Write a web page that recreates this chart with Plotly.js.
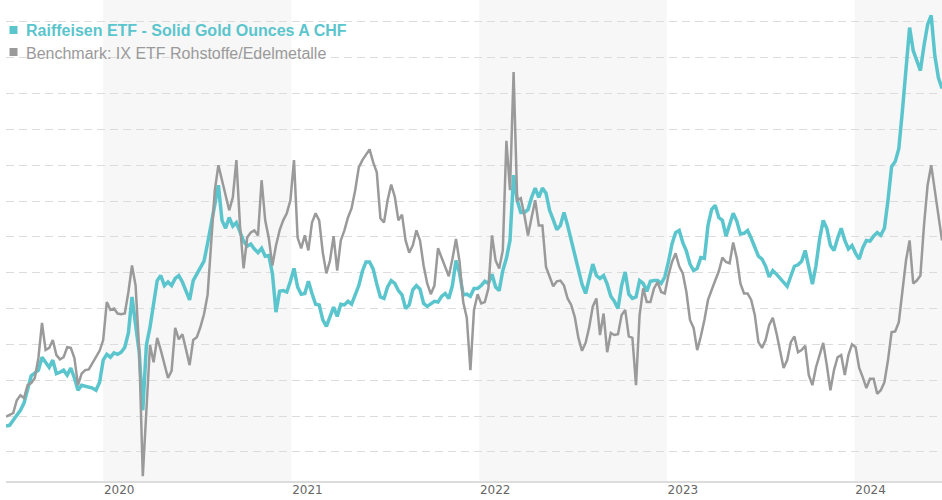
<!DOCTYPE html>
<html><head><meta charset="utf-8">
<script src="https://cdn.plot.ly/plotly-3.0.1.min.js"></script>
<style>html,body{margin:0;padding:0;background:#fff}#chart{width:942px;height:500px}</style>
</head><body><div id="chart"></div>
<script>
// Weekly observations, performance in % since start (gridline every 5 %)
const startDate = '2019-06-26';
const stepDays = 7;
const fundName = 'Raiffeisen ETF - Solid Gold Ounces A CHF';
const benchName = 'Benchmark: IX ETF Rohstoffe/Edelmetalle';

const fundValues = [
  -1.4, -1.3, -0.6, 0.1, 0.8, 1.8, 3.6, 5.6, 6.0, 6.4,
  8.2, 7.5, 6.8, 7.8, 5.9, 6.1, 6.4, 5.7, 6.7, 5.3,
  3.6, 4.3, 4.2, 4.0, 3.9, 3.6, 4.7, 7.8, 8.6, 8.2,
  8.8, 8.6, 8.9, 9.6, 11.6, 16.6, 13.0, 8.9, 0.8, 9.9,
  12.4, 15.7, 18.9, 19.6, 18.2, 18.7, 18.2, 19.2, 19.6, 18.7,
  17.3, 16.2, 18.9, 19.8, 20.9, 21.6, 24.1, 26.6, 29.1, 32.2,
  27.3, 26.2, 27.7, 26.5, 27.0, 25.6, 24.4, 23.7, 24.0, 23.3,
  22.8, 23.4, 22.3, 22.4, 19.9, 14.5, 17.4, 17.5, 17.3, 18.8,
  20.6, 18.0, 17.0, 17.1, 18.8, 17.1, 15.6, 15.5, 13.4, 12.5,
  13.7, 15.2, 13.9, 15.6, 15.5, 16.0, 15.6, 16.9, 18.2, 20.2,
  21.5, 21.5, 20.5, 18.4, 16.6, 16.4, 18.0, 18.9, 18.5, 17.5,
  16.9, 15.0, 15.5, 17.6, 18.2, 17.7, 15.7, 15.3, 15.7, 16.0,
  15.9, 16.7, 17.1, 16.4, 18.2, 21.7, 19.9, 16.9, 17.0, 16.7,
  17.8, 17.8, 18.2, 18.8, 18.5, 19.8, 18.0, 17.5, 20.3, 22.0,
  24.5, 33.6, 30.1, 28.4, 28.4, 28.8, 30.5, 31.8, 30.5, 31.8,
  31.1, 28.7, 27.4, 26.0, 26.6, 28.4, 26.6, 24.5, 22.4, 20.5,
  18.4, 17.1, 19.4, 21.2, 19.6, 19.2, 19.6, 18.4, 16.7, 16.0,
  15.0, 18.2, 20.1, 17.0, 16.4, 16.6, 18.9, 18.5, 17.4, 18.8,
  18.9, 18.9, 18.5, 19.4, 21.5, 24.0, 25.6, 25.9, 24.2, 23.0,
  21.2, 20.3, 20.6, 22.1, 22.0, 26.6, 28.8, 29.4, 27.7, 27.3,
  25.1, 26.8, 28.3, 27.2, 25.4, 25.5, 25.9, 24.8, 23.4, 22.3,
  21.9, 20.9, 19.4, 20.3, 19.8, 19.2, 18.7, 18.1, 19.5, 20.9,
  21.1, 21.6, 23.1, 20.6, 18.4, 21.0, 24.7, 27.3, 26.2, 23.8,
  23.1, 24.8, 26.2, 24.5, 23.3, 23.8, 22.7, 21.9, 23.5, 24.5,
  24.4, 25.1, 25.6, 25.2, 26.2, 30.1, 34.8, 35.5, 37.3, 42.6,
  48.6, 54.2, 51.0, 49.6, 48.2, 51.7, 54.6, 55.9, 50.3, 47.2, 45.7
];

const benchValues = [
  -0.1, 0.1, 0.4, 2.2, 2.9, 2.5, 4.3, 4.6, 5.3, 8.1,
  13.0, 9.2, 9.5, 10.6, 8.5, 7.9, 8.2, 9.6, 9.5, 8.1,
  4.3, 5.9, 6.4, 6.5, 7.4, 8.1, 9.1, 10.6, 15.9, 14.8,
  15.0, 14.3, 14.2, 14.3, 17.3, 21.0, 18.2, 9.2, -8.4, 0.8,
  9.9, 7.5, 10.9, 9.2, 7.1, 5.3, 6.3, 12.3, 10.7, 11.4,
  9.3, 7.1, 10.6, 11.0, 12.4, 14.2, 16.9, 24.5, 31.5, 35.0,
  32.9, 30.5, 28.7, 30.5, 35.7, 26.6, 20.6, 24.9, 25.6, 25.9,
  25.2, 32.9, 27.3, 24.8, 21.0, 23.8, 25.9, 27.3, 28.3, 30.1,
  35.7, 24.9, 23.4, 25.2, 23.1, 27.0, 28.3, 27.3, 22.8, 19.9,
  21.7, 25.1, 20.3, 24.5, 25.9, 27.7, 29.0, 31.5, 34.7, 35.7,
  36.4, 37.2, 35.4, 34.0, 27.6, 27.0, 30.1, 32.3, 30.6, 27.3,
  28.1, 24.5, 22.8, 23.8, 25.9, 24.5, 21.0, 18.5, 17.0, 18.2,
  23.4, 22.1, 20.6, 19.5, 21.9, 24.7, 21.5, 15.9, 13.7, 6.4,
  14.8, 17.0, 15.7, 15.9, 17.8, 25.2, 21.7, 20.6, 23.1, 38.4,
  31.5, 48.0, 30.1, 30.4, 28.0, 25.2, 27.7, 30.1, 26.6, 26.6,
  20.8, 19.4, 18.1, 18.8, 18.9, 18.2, 16.4, 15.5, 13.8, 10.9,
  9.1, 10.2, 12.4, 15.3, 16.4, 11.3, 14.3, 8.9, 11.6, 11.3,
  11.4, 14.1, 14.8, 11.1, 10.9, 4.3, 14.1, 17.8, 15.9, 15.9,
  17.8, 18.7, 17.3, 17.1, 19.6, 21.5, 22.7, 20.9, 19.9, 17.3,
  13.4, 12.3, 9.2, 11.1, 13.4, 16.2, 17.7, 18.9, 20.2, 22.1,
  21.5, 21.3, 24.2, 22.0, 18.5, 17.1, 17.1, 16.2, 14.1, 10.3,
  9.5, 10.6, 12.7, 13.7, 11.6, 8.9, 6.7, 7.8, 10.3, 11.1,
  8.9, 9.2, 9.8, 5.7, 4.3, 6.8, 8.4, 10.2, 7.1, 3.6,
  6.4, 8.2, 8.5, 5.7, 8.5, 10.0, 9.6, 6.7, 5.4, 3.9,
  5.2, 5.2, 3.1, 3.6, 4.7, 7.8, 11.7, 11.8, 13.1, 17.1,
  21.7, 24.5, 18.5, 18.9, 19.6, 26.6, 32.2, 35.0, 31.5, 28.7, 24.5
];

const years = [2020, 2021, 2022, 2023, 2024];
const shadedYears = [2020, 2022, 2024];

const fundColor = '#5bc5cd';
const benchColor = '#9a9a9a';

const dates = fundValues.map(function (_, i) {
  const d = new Date(startDate + 'T00:00:00Z');
  d.setUTCDate(d.getUTCDate() + i * stepDays);
  return d.toISOString().slice(0, 10);
});
const lastDate = dates[dates.length - 1];

const traces = [
  { x: dates, y: fundValues, type: 'scatter', mode: 'lines', name: fundName,
    line: { color: fundColor, width: 3.5 }, hoverinfo: 'skip' },
  { x: dates, y: benchValues, type: 'scatter', mode: 'lines', name: benchName,
    line: { color: benchColor, width: 2.5 }, hoverinfo: 'skip' }
];

const shapes = shadedYears.map(function (y) {
  return { type: 'rect', xref: 'x', yref: 'paper', x0: y + '-01-01', x1: (y + 1) + '-01-01',
    y0: 0, y1: 1, fillcolor: '#f7f7f7', line: { width: 0 }, layer: 'below' };
});
// legend squares
[[fundColor, -26], [benchColor, -48]].forEach(function (s) {
  shapes.push({ type: 'rect', xref: 'paper', yref: 'paper', xsizemode: 'pixel', ysizemode: 'pixel',
    xanchor: 0, yanchor: 1, x0: 3.5, x1: 11.5, y0: s[1], y1: s[1] - 8,
    fillcolor: s[0], line: { width: 0 }, layer: 'above' });
});

const annotations = [
  { xref: 'paper', yref: 'paper', x: 0, y: 1, xanchor: 'left', yanchor: 'middle',
    xshift: 17.5, yshift: -30, showarrow: false, text: '<b>' + fundName + '</b>',
    font: { family: 'Liberation Sans, Arial, sans-serif', size: 16, color: fundColor } },
  { xref: 'paper', yref: 'paper', x: 0, y: 1, xanchor: 'left', yanchor: 'middle',
    xshift: 17.5, yshift: -53, showarrow: false, text: benchName,
    font: { family: 'Liberation Sans, Arial, sans-serif', size: 16, color: benchColor } }
];

const layout = {
  width: 942, height: 500,
  margin: { l: 6, r: 0, t: 0, b: 19 },
  paper_bgcolor: '#ffffff', plot_bgcolor: '#ffffff',
  showlegend: false,
  xaxis: {
    type: 'date', range: [dates[0], lastDate],
    showgrid: false, zeroline: false,
    showline: true, linecolor: '#dcdcdc', linewidth: 1.5,
    tickvals: years.map(function (y) { return y + '-01-01'; }),
    ticktext: years.map(String),
    ticks: '', ticklabelposition: 'outside right', ticklabelstandoff: -3,
    tickfont: { family: 'DejaVu Sans, Verdana, sans-serif', size: 12, color: '#666666' },
    fixedrange: true
  },
  yaxis: {
    range: [-9.07, 58.05], tick0: 0, dtick: 5,
    showticklabels: false, ticks: '',
    showgrid: true, gridcolor: '#dcdcdc', gridwidth: 1, griddash: '8px,5px',
    zeroline: false, showline: false, fixedrange: true
  },
  shapes: shapes,
  annotations: annotations
};

Plotly.newPlot('chart', traces, layout, { staticPlot: true, displayModeBar: false });
</script>
</body></html>
